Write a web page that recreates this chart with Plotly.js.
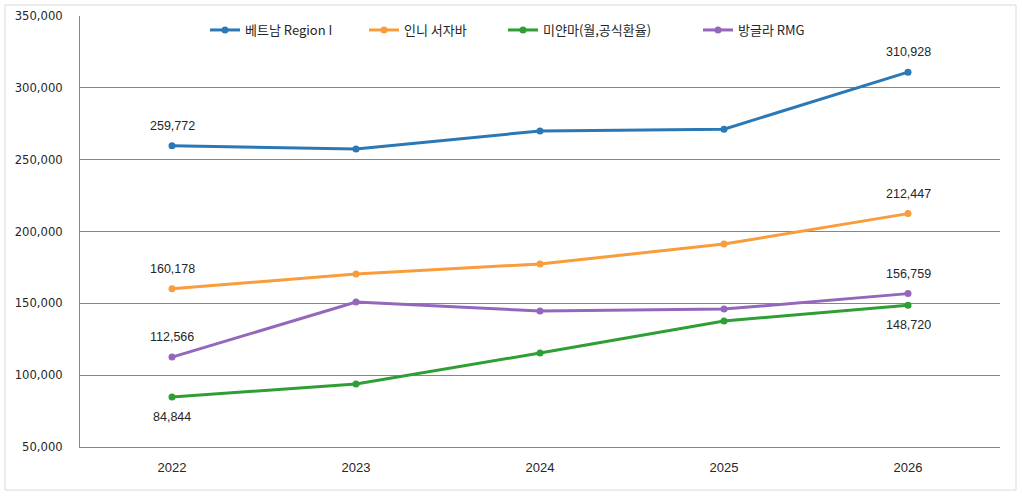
<!DOCTYPE html>
<html><head><meta charset="utf-8">
<script src="https://cdn.plot.ly/plotly-3.0.1.min.js"></script>
<style>html,body{margin:0;padding:0;background:#fff}#chart{width:1022px;height:497px}</style>
</head><body><div id="chart"></div>
<script>
const years = ['2022','2023','2024','2025','2026'];
const seriesNames = ['베트남 Region I','인니 서자바','미얀마(월,공식환율)','방글라 RMG'];
const vietnam = [259772, 257400, 270000, 271200, 310928];
const indonesia = [160178, 170400, 177400, 191300, 212447];
const myanmar = [84844, 93900, 115400, 137700, 148720];
const bangladesh = [112566, 150900, 144700, 146000, 156759];
const colors = ['#2a78b5','#f89c3c','#2f9e35','#9467bd'];
const labelSide = [[1,1],[1,1],[-1,-1],[1,1]]; // +1 above, -1 below (first, last)
const legendStartPx = [211, 370, 509, 704];
const legendIds = ['legend','legend2','legend3','legend4'];

const allSeries = [vietnam, indonesia, myanmar, bangladesh];
const traces = allSeries.map((vals,i)=>({
  type:'scatter', mode:'lines+markers', x:years, y:vals, name:seriesNames[i],
  legend:legendIds[i],
  line:{color:colors[i], width:3}, marker:{color:colors[i], size:7},
  hoverinfo:'x+y'
}));

const fmt = v => v.toLocaleString('en-US');
const annotations = [];
allSeries.forEach((vals,i)=>{
  [0, vals.length-1].forEach((idx,k)=>{
    annotations.push({x:idx, y:vals[idx], xref:'x', yref:'y', text:fmt(vals[idx]),
      showarrow:false, yshift:20*labelSide[i][k],
      font:{family:'Liberation Sans, Arial, sans-serif', size:12.5, color:'#262626'}});
  });
});

const layout = {
  width:1022, height:497,
  margin:{l:80, r:22, t:16, b:50},
  paper_bgcolor:'#fff', plot_bgcolor:'#fff',
  showlegend:true,
  xaxis:{type:'category', range:[-0.5, 4.5], showgrid:false, showline:true, linecolor:'#868686', linewidth:1,
    ticks:'', ticklabelstandoff:8,
    tickfont:{family:'Liberation Sans, Arial, sans-serif', size:13, color:'#262626'}},
  yaxis:{range:[50000,350000], dtick:50000, tickformat:',d', showgrid:true, gridcolor:'#868686', gridwidth:1,
    showline:true, linecolor:'#868686', linewidth:1, zeroline:false, ticks:'', ticklabelstandoff:14,
    tickfont:{family:'DejaVu Sans, Verdana, sans-serif', size:11.6, color:'#262626'}},
  annotations:annotations,
  shapes:[{type:'rect', xref:'paper', yref:'paper', x0:(5-80)/920, x1:(1016-80)/920, y0:(447-490)/431, y1:(447-5)/431,
    line:{color:'#d9d9d9', width:1}, fillcolor:'rgba(0,0,0,0)', layer:'below'}]
};
legendIds.forEach((id,i)=>{
  layout[id] = {orientation:'h', x:(legendStartPx[i]-80-6)/920, xanchor:'left', y:0.9675, yanchor:'middle',
    font:{family:'Noto Sans CJK KR, sans-serif', size:13, color:'#262626'}, bgcolor:'rgba(0,0,0,0)'};
});
Plotly.newPlot('chart', traces, layout, {displayModeBar:false, staticPlot:true});
</script></body></html>
